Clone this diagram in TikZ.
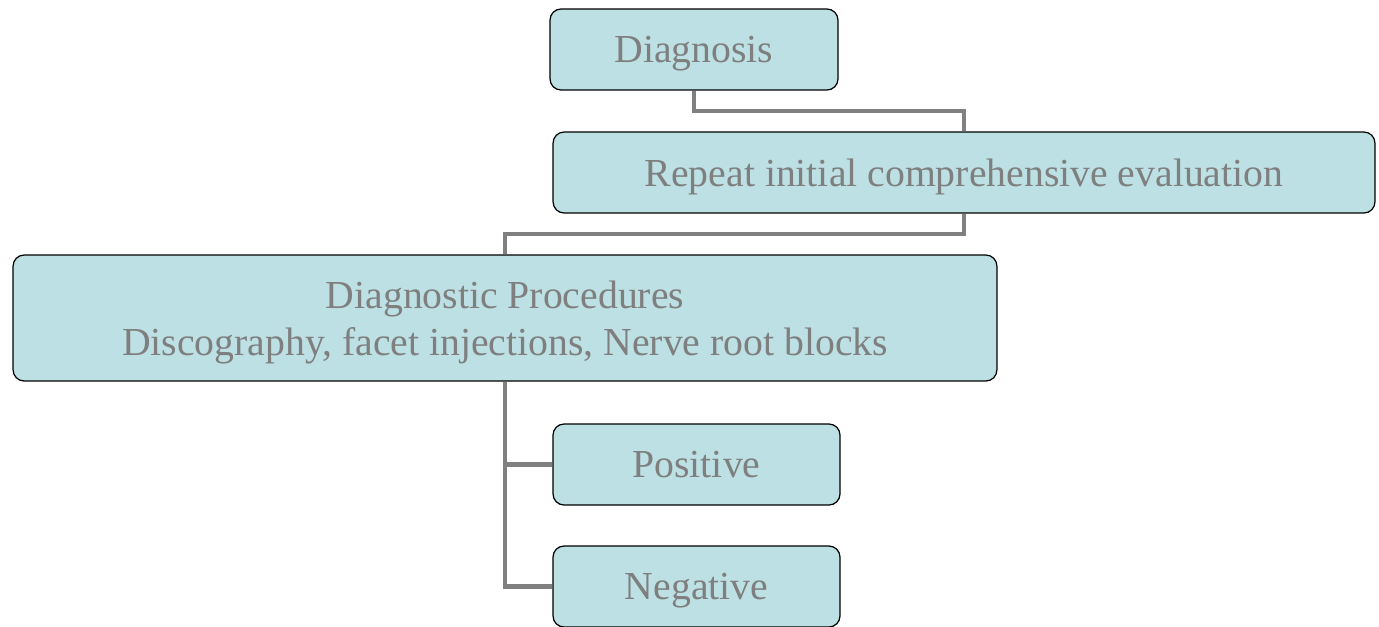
\documentclass[tikz,border=0pt]{standalone}
\usepackage{fontspec}
\setmainfont{Liberation Serif}
\usepackage{tikz}
\usetikzlibrary{positioning,calc}
\definecolor{boxfill}{HTML}{BCE0E3}
\definecolor{boxtext}{HTML}{7F7F7F}
\definecolor{linkgray}{HTML}{808080}
\tikzset{
  flownode/.style = {align=center, inner sep=0pt, text centered,
    font=\fontsize{22.6}{27}\selectfont, text=boxtext, text depth=0pt},
  fbox/.style = {flownode, rectangle, rounded corners=0.22cm,
    draw=black, fill=boxfill, line width=0.7pt},% boite du schema
  link/.style = {draw=linkgray, line width=2.3pt}% trait de liaison
}
\begin{document}
\begin{tikzpicture}[x=0.02cm,y=-0.02cm]
\useasboundingbox (0,0) rectangle (1379,626);
\node [fbox, minimum width=5.76cm, minimum height=1.62cm] (diag) at (694,49.5) {Diagnosis};
\node [fbox, minimum width=16.44cm, minimum height=1.62cm] (repeat) at (964,172.5)
  {Repeat initial comprehensive evaluation};
\node [fbox, minimum width=19.68cm, minimum height=2.52cm] (proc) at (505,318)
  {Diagnostic Procedures\\Discography, facet injections, Nerve root blocks};
\node [fbox, minimum width=5.74cm, minimum height=1.62cm] (pos) at (696.5,464.5) {Positive};
\node [fbox, minimum width=5.74cm, minimum height=1.62cm] (neg) at (696.5,586.5) {Negative};
% liaisons
\draw [link] (diag.south) |- (964,111) -- (repeat.north);
\draw [link] (repeat.south) |- (505,234) -- (proc.north);
\draw [link] (proc.south) |- (neg.west);
\draw [link] (505,464.5) -- (pos.west);
\end{tikzpicture}
\end{document}
